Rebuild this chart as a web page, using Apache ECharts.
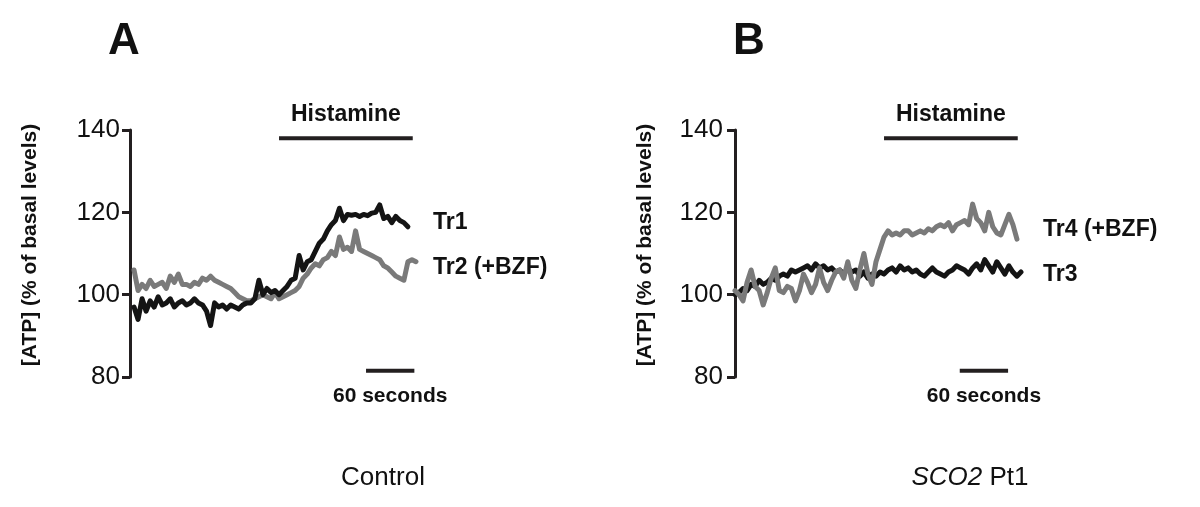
<!DOCTYPE html>
<html><head><meta charset="utf-8">
<script src="https://cdn.jsdelivr.net/npm/echarts@6/dist/echarts.min.js"></script>
<style>html,body{margin:0;padding:0;background:#fff}#c{width:1200px;height:507px}</style>
</head><body><div id="c"></div>
<script>
// ---- data (time in seconds, values in % of basal ATP) ----
const sampleStep = 5;
const yMin = 80, yMax = 140, yStep = 20;
const tr1Start = 5;   // Control, Tr1 (black)
const tr1 = [97,94,99,96,98.5,97,99.5,97.5,98,99,97,98,98.5,97.5,98,99,98,97.5,96,92.5,98,97,97.5,96.5,97.5,97,96.5,97.5,98,98,99,103.5,100,101.5,100.5,101,100,101,102,103.5,104,109.5,106,108,108.5,110.5,112.5,113.5,115.5,117,118,121,118,119.5,119.3,119.5,119,119.5,119.2,119.8,120,121.8,118.5,119,117.5,119,118,117.5,116.5];
const tr2Start = 5;   // Control, Tr2 (+BZF) (gray)
const tr2 = [106,101,102.5,101.5,103.5,102,102.5,103,101.5,104.5,103,105,102.5,102.5,102,103,102.5,104,103.5,104.5,103.5,103,102.5,102,101.5,100.5,99.5,99,98.5,98.5,99,99.5,100,99.5,99,100.5,99,99.5,100,100.5,101,102,104,105,106.5,107.5,107,108.5,109,110.5,109.5,114,111,111.5,110.5,115.5,111,110.5,110,109.5,109,108.5,107,106.5,105.5,104.5,104,103.5,108,108.5,108];
const tr3Start = 0;   // SCO2 Pt1, Tr3 (black)
const tr3 = [100,100.5,101.5,101,102.5,102,103.5,102.5,103,104,103.5,104.5,105,104.5,106,105.5,106,106.5,107,106,107.5,106.5,107,106,106.5,105.5,106,105,106.5,105.5,106,104.5,105.5,104,105,104.5,105.5,105,106,106.5,105.5,107,106,106.5,105.5,106,105,104.5,105.5,106.5,105.5,105,104.5,105.5,106,107,106.5,106,105,106.5,107.5,106,108.5,107,105.5,108,106.5,105,107,105.5,104.5,105.5];
const tr4Start = 0;   // SCO2 Pt1, Tr4 (+BZF) (gray)
const tr4 = [101,100,98.5,103,106,102,101,97.5,100.5,104,106.5,101,100.5,102,101.5,98.5,101,105,103,100.5,102.5,106.5,103,101,103.5,105.5,106,104,108,103.5,101.5,106,110,105,102.5,108,111,114,115.5,114.5,115,114.5,115.5,115.5,114.5,115,115.5,115,116,115.5,116.5,117,116.5,117.5,115.5,117,117.5,118,117,122,118.5,117.5,115.5,120,116.5,115,114.5,117,119.5,117,113.5];
const histamineA = [185, 351], histamineB = [185, 351];
const histamineLevel = 138;
const scaleBarA = [293, 353], scaleBarB = [279, 339];
const scaleBarLevel = 81.5;
const labelsA = [['Tr1', 117.6], ['Tr2 (+BZF)', 106.5]];
const labelsB = [['Tr4 (+BZF)', 115.7], ['Tr3', 104.8]];

const FONT = "'Liberation Sans', Arial, Helvetica, sans-serif";
const BLACK = '#141414', GRAY = '#7a7a7a', AX = '#231f20';

function pts(start, arr){ return arr.map((v,i)=>[start + i*sampleStep, v]); }

const grids = [
  {left:130, top:130, width:290, height:247},
  {left:735, top:130, width:290, height:247}
];
function yAxisFor(g){
  return {
    type:'value', gridIndex:g, min:yMin, max:yMax, interval:yStep,
    splitLine:{show:false},
    axisLine:{show:true, lineStyle:{color:AX, width:3}},
    axisTick:{show:true, inside:false, length:8, lineStyle:{color:AX, width:3}},
    axisLabel:{color:'#111', fontSize:26, fontFamily:FONT, margin:g===0?10:12}
  };
}
function xAxisFor(g){
  return {type:'value', gridIndex:g, min:0, max:360, show:false};
}
function trace(g, start, arr, color, z){
  return {type:'line', xAxisIndex:g, yAxisIndex:g, data:pts(start, arr), symbol:'none',
    lineStyle:{color, width:5, join:'round', cap:'round'}, z, animation:false, silent:true};
}
function bar(g, range, level, w){
  return {type:'line', xAxisIndex:g, yAxisIndex:g, data:[[range[0],level],[range[1],level]], symbol:'none',
    lineStyle:{color:AX, width:w}, animation:false, silent:true, z:5};
}

const chart = echarts.init(document.getElementById('c'));
chart.setOption({
  backgroundColor:'#fff',
  animation:false,
  grid:grids,
  xAxis:[xAxisFor(0), xAxisFor(1)],
  yAxis:[yAxisFor(0), yAxisFor(1)],
  series:[
    trace(0, tr2Start, tr2, GRAY, 2),
    trace(0, tr1Start, tr1, BLACK, 3),
    trace(1, tr3Start, tr3, BLACK, 2),
    trace(1, tr4Start, tr4, GRAY, 3),
    bar(0, histamineA, histamineLevel, 4),
    bar(1, histamineB, histamineLevel, 4),
    bar(0, scaleBarA, scaleBarLevel, 4),
    bar(1, scaleBarB, scaleBarLevel, 4)
  ]
});

function px(g, t, v){ return chart.convertToPixel({gridIndex:g}, [t, v]); }
const g = [];
function txt(x, y, text, opt){
  g.push({type:'text', x, y, style:Object.assign({text, fill:'#111', fontFamily:FONT, align:'center', verticalAlign:'middle'}, opt||{})});
}
[[0, histamineA, scaleBarA, labelsA],[1, histamineB, scaleBarB, labelsB]].forEach(([gi, hist, sb, labs])=>{
  const h0 = px(gi, hist[0], histamineLevel), h1 = px(gi, hist[1], histamineLevel);
  txt((h0[0]+h1[0])/2, h0[1]-24, 'Histamine', {fontSize:23, fontWeight:'bold'});
  const s0 = px(gi, sb[0], scaleBarLevel), s1 = px(gi, sb[1], scaleBarLevel);
  txt((s0[0]+s1[0])/2, s0[1]+25, '60 seconds', {fontSize:21, fontWeight:'bold'});
  labs.forEach(([name, v])=>{
    const p = px(gi, 360, v);
    txt(p[0] + (gi===0?13:18), p[1], name, {fontSize:23, fontWeight:'bold', align:'left'});
  });
});
// y-axis titles
[30, 645].forEach(x=>{
  g.push({type:'text', x, y:245, rotation:Math.PI/2, style:{text:'[ATP] (% of basal levels)', fontSize:21, fontWeight:'bold', fontFamily:FONT, fill:'#111', align:'center', verticalAlign:'middle'}});
});
// panel letters
txt(124, 42, 'A', {fontSize:44, fontWeight:'bold'});
txt(749, 42, 'B', {fontSize:44, fontWeight:'bold'});
// captions
txt(383, 478, 'Control', {fontSize:26});
g.push({type:'text', x:970, y:478, style:{text:'{i|SCO2} Pt1', fontSize:26, fontFamily:FONT, fill:'#111', align:'center', verticalAlign:'middle', rich:{i:{fontStyle:'italic', fontSize:26, fontFamily:FONT, fill:'#111'}}}});
chart.setOption({graphic:g});
</script></body></html>
